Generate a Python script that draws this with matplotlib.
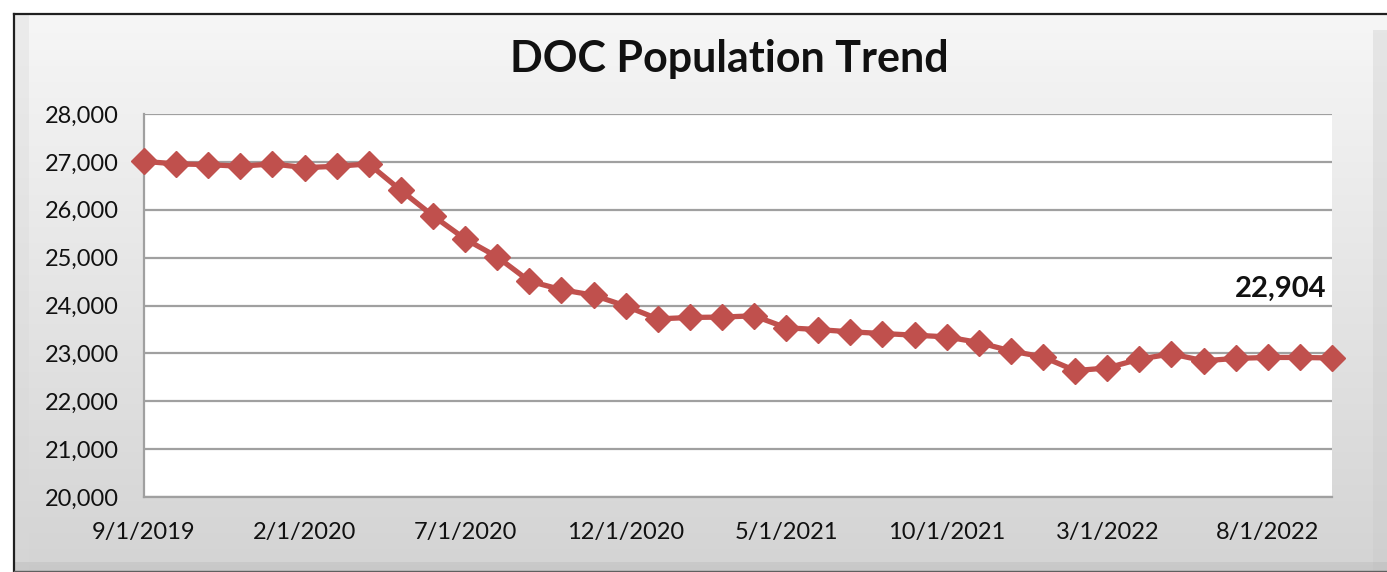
import numpy as np
import matplotlib
matplotlib.use("Agg")
import matplotlib.pyplot as plt
from matplotlib.patches import Rectangle

plt.rcParams['font.family'] = ['Lato', 'DejaVu Sans']

# ---- data ----
months = ["9/1/2019", "10/1/2019", "11/1/2019", "12/1/2019", "1/1/2020", "2/1/2020",
          "3/1/2020", "4/1/2020", "5/1/2020", "6/1/2020", "7/1/2020", "8/1/2020",
          "9/1/2020", "10/1/2020", "11/1/2020", "12/1/2020", "1/1/2021", "2/1/2021",
          "3/1/2021", "4/1/2021", "5/1/2021", "6/1/2021", "7/1/2021", "8/1/2021",
          "9/1/2021", "10/1/2021", "11/1/2021", "12/1/2021", "1/1/2022", "2/1/2022",
          "3/1/2022", "4/1/2022", "5/1/2022", "6/1/2022", "7/1/2022", "8/1/2022",
          "9/1/2022", "10/1/2022"]
population = [27010, 26958, 26943, 26908, 26958, 26880, 26908, 26958, 26405, 25874,
              25390, 25015, 24510, 24330, 24215, 23990, 23720, 23750, 23758, 23785,
              23535, 23497, 23450, 23415, 23380, 23345, 23226, 23050, 22925, 22640,
              22695, 22880, 22990, 22845, 22895, 22915, 22915, 22904]
tick_labels = ["9/1/2019", "2/1/2020", "7/1/2020", "12/1/2020",
               "5/1/2021", "10/1/2021", "3/1/2022", "8/1/2022"]
y_ticks = [20000, 21000, 22000, 23000, 24000, 25000, 26000, 27000, 28000]
title = "DOC Population Trend"
last_label = "22,904"

W, H = 1387, 572
fig = plt.figure(figsize=(W / 100, H / 100), dpi=100)
fig.patch.set_facecolor("white")

# ---- background panel with gradient and bevel ----
bg = fig.add_axes([0, 0, 1, 1], zorder=0)
bg.set_xlim(0, W)
bg.set_ylim(H, 0)
bg.axis("off")
grad = np.linspace(0, 1, 256).reshape(-1, 1)
top_c = np.array([0.965, 0.965, 0.965])
bot_c = np.array([0.83, 0.83, 0.83])
img = top_c + (bot_c - top_c) * grad
img = np.repeat(img[:, None, :], 2, axis=1).reshape(256, 2, 3)
bg.imshow(img, extent=(15, W, H, 15), aspect="auto", interpolation="bilinear", zorder=0)
# subtle bevel edges
bg.add_patch(Rectangle((15, 15), 14, H - 15, facecolor="#d8d8d8", edgecolor="none", alpha=0.35, zorder=1))
bg.add_patch(Rectangle((W - 14, 30), 14, H - 30, facecolor="#c8c8c8", edgecolor="none", alpha=0.35, zorder=1))
bg.add_patch(Rectangle((15, H - 10), W - 15, 10, facecolor="#b0b0b0", edgecolor="none", alpha=0.3, zorder=1))
# dark frame lines
bg.plot([14, W], [14, 14], color="#202020", lw=1.6, zorder=3)
bg.plot([14, 14], [14, H], color="#202020", lw=1.6, zorder=3)
bg.plot([14, W], [H - 1, H - 1], color="#606060", lw=1.0, zorder=3)

# ---- plot area ----
left, right, top, bottom = 144, 1332, 114, 497
ax = fig.add_axes([left / W, 1 - bottom / H, (right - left) / W, (bottom - top) / H], zorder=2)
ax.set_facecolor("white")
x = np.arange(len(population))
ax.plot(x, population, color="#C0504D", lw=3.8, marker="D", ms=13,
        markerfacecolor="#C0504D", markeredgecolor="#C0504D", clip_on=False, zorder=5)

ax.set_xlim(0, len(population) - 1)
ax.set_ylim(20000, 28000)
ax.set_yticks(y_ticks)
ax.set_yticklabels([f"{v:,}" for v in y_ticks])
tick_pos = [months.index(t) for t in tick_labels]
ax.set_xticks(tick_pos)
ax.set_xticklabels(tick_labels)
ax.tick_params(axis="both", length=0, labelsize=17, colors="#111111")
ax.tick_params(axis="y", pad=18)
ax.tick_params(axis="x", pad=18)
ax.yaxis.grid(True, color="#a0a0a0", lw=1.6)
ax.set_axisbelow(True)
for s in ["top", "right"]:
    ax.spines[s].set_visible(False)
ax.spines["left"].set_color("#a0a0a0")
ax.spines["left"].set_linewidth(1.6)
ax.spines["bottom"].set_color("#a0a0a0")
ax.spines["bottom"].set_linewidth(1.6)

ax.annotate(last_label, xy=(x[-1], population[-1]), xytext=(-4, 50),
            textcoords="offset points", ha="right", va="center",
            fontsize=21, fontweight="bold", color="#111111")

fig.text(729 / W, 1 - 59 / H, title, ha="center", va="center",
         fontsize=31, fontweight="bold", color="#111111")

fig.savefig("out.png", dpi=100, facecolor=fig.get_facecolor())
